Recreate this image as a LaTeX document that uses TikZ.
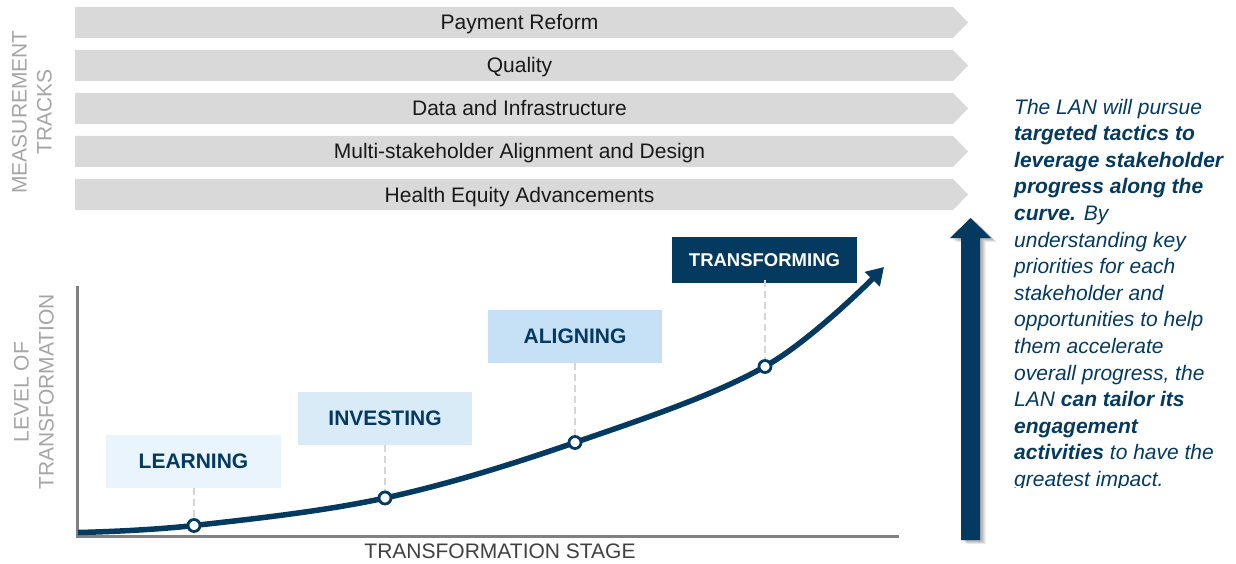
\documentclass[tikz,border=0pt]{standalone}
\usepackage{fontspec}
\setmainfont{Liberation Sans}
\usetikzlibrary{arrows.meta}
\definecolor{navy}{RGB}{4,57,96}
\definecolor{bandgrey}{RGB}{217,217,217}
\definecolor{labelgrey}{RGB}{165,165,165}
\definecolor{axisgrey}{RGB}{128,128,128}
\definecolor{stagegrey}{RGB}{64,64,64}
\definecolor{dropgrey}{RGB}{214,214,214}
\definecolor{fillA}{RGB}{234,244,252}
\definecolor{fillB}{RGB}{218,235,248}
\definecolor{fillC}{RGB}{198,225,245}
\begin{document}
\begin{tikzpicture}[x=1pt,y=-1pt,
  bandtext/.style={font=\fontsize{21}{25}\selectfont, text=black!90, inner sep=0pt, anchor=base},
  sidelabel/.style={font=\fontsize{21}{25}\selectfont, text=labelgrey, rotate=90, align=center, inner sep=0pt},
  stagebox/.style={font=\bfseries\fontsize{21}{25}\selectfont, text=navy, inner sep=0pt, minimum height=53pt},
  dot/.style={circle, draw=navy, fill=white, line width=2.8pt, minimum size=12pt, inner sep=0pt},
  dropline/.style={draw=dropgrey, line width=1.5pt, dash pattern=on 7pt off 4pt},
  axisline/.style={draw=axisgrey, line width=3pt},
  curveline/.style={draw=navy, line width=5.5pt, -{Triangle[length=17pt,width=20pt]}}
]
\useasboundingbox (0,0) rectangle (1236,564);

% measurement track bands
\foreach \t [count=\i] in {Payment Reform,Quality,Data and Infrastructure,Multi-stakeholder Alignment and Design,Health Equity Advancements}{
  \pgfmathsetmacro{\ytop}{7+(\i-1)*43}
  \fill[bandgrey] (75,\ytop) -- (953,\ytop) -- (968,\ytop+15.5) -- (953,\ytop+31) -- (75,\ytop+31) -- cycle;
  \node[bandtext] (band\i) at (519.5,\ytop+23) {\t};
}

\node[sidelabel] (meas) at (32,112) {MEASUREMENT\\TRACKS};
\node[sidelabel] (level) at (34,392) {LEVEL OF\\TRANSFORMATION};
\node[font=\fontsize{21}{25}\selectfont, text=stagegrey, inner sep=0pt] (stage) at (500,551) {TRANSFORMATION STAGE};

% axes
\coordinate (ytop) at (77,286);
\coordinate (orig) at (77,536);
\coordinate (xend) at (899,536);
\draw[axisline] (ytop) -- (orig) -- (xend);

% stage boxes
\node[stagebox, fill=fillA, minimum width=175pt] (learn) at (193.5,461.5) {LEARNING};
\node[stagebox, fill=fillB, minimum width=174pt] (invest) at (385,418.5) {INVESTING};
\node[stagebox, fill=fillC, minimum width=174pt] (align) at (575,336.5) {ALIGNING};
\node[stagebox, fill=navy, text=white, minimum width=185pt, minimum height=46pt, font=\bfseries\fontsize{18.5}{22}\selectfont] (transf) at (764.5,260) {TRANSFORMING};

% curve points
\coordinate (p0) at (78,532.5);
\coordinate (p1) at (194,525.5);
\coordinate (p2) at (385,498);
\coordinate (p3) at (575,442.5);
\coordinate (p4) at (765,366.5);
\coordinate (p5) at (884,267);

% drop lines
\draw[dropline] (learn.south -| p1) -- (p1);
\draw[dropline] (invest.south -| p2) -- (p2);
\draw[dropline] (align.south -| p3) -- (p3);
\draw[dropline] ([yshift=3pt]transf.south -| p4) -- (p4);

% curve
\draw[curveline] plot[smooth, tension=0.6] coordinates {(p0) (p1) (p2) (p3) (p4) (p5)};
\node[dot] (c1) at (p1) {};
\node[dot] (c2) at (p2) {};
\node[dot] (c3) at (p3) {};
\node[dot] (c4) at (p4) {};

% big arrow with soft shadow
\foreach \s/\o in {6/0.05,5/0.06,4/0.07,3/0.08,2/0.08}{
  \fill[black, opacity=\o, shift={(\s,\s*0.7)}] (961,540) -- (961,238) -- (950,238) -- (970.5,218) -- (991,238) -- (980,238) -- (980,540) -- cycle;
}
\fill[navy] (961,540) -- (961,238) -- (950,238) -- (970.5,218) -- (991,238) -- (980,238) -- (980,540) -- cycle;
\coordinate (bigtip) at (970.5,218);

% explanatory text
\begin{scope}
\clip (1000,90) rectangle (1236,487.5);
\node[anchor=north west, inner sep=0pt, align=left, text=navy, font=\itshape\fontsize{21}{26.6}\selectfont] (expl) at (1014,98.7) {The LAN will pursue\\
\textbf{targeted tactics to}\\
\textbf{leverage stakeholder}\\
\textbf{progress along the}\\
\textbf{curve.} By\\
understanding key\\
priorities for each\\
stakeholder and\\
opportunities to help\\
them accelerate\\
overall progress, the\\
LAN \textbf{can tailor its}\\
\textbf{engagement}\\
\textbf{activities} to have the\\
greatest impact.};
\end{scope}
\end{tikzpicture}
\end{document}
